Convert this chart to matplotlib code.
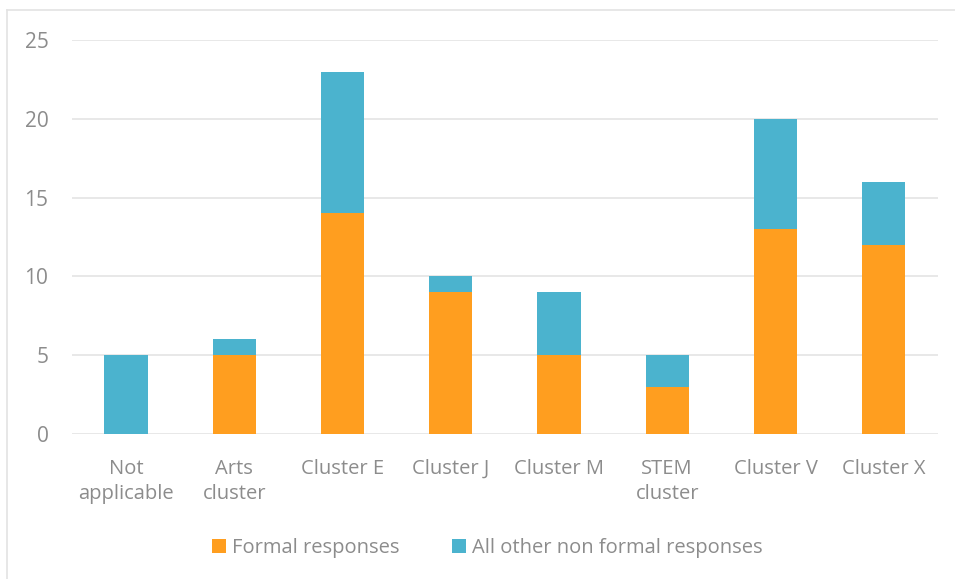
import matplotlib.pyplot as plt
import numpy as np
from matplotlib.lines import Line2D

plt.rcParams['font.family'] = ['Open Sans', 'DejaVu Sans']

categories = ['Not\napplicable', 'Arts\ncluster', 'Cluster E', 'Cluster J',
              'Cluster M', 'STEM\ncluster', 'Cluster V', 'Cluster X']
formal = [0, 5, 14, 9, 5, 3, 13, 12]
non_formal = [5, 1, 9, 1, 4, 2, 7, 4]

orange = '#FF9E1F'
blue = '#4BB3CE'
grey = '#8C8C8C'

fig = plt.figure(figsize=(9.55, 5.79), dpi=100)
ax = fig.add_axes([0.0754, 0.2504, 0.9066, 0.6805])

x = np.arange(len(categories))
ax.bar(x, formal, width=0.4, color=orange, label='Formal responses', zorder=3)
ax.bar(x, non_formal, width=0.4, bottom=formal, color=blue,
       label='All other non formal responses', zorder=3)

ax.set_xlim(-0.5, len(categories) - 0.5)
ax.set_ylim(0, 25)
ax.set_yticks([0, 5, 10, 15, 20, 25])
ax.set_xticks(x)
ax.set_xticklabels(categories, fontsize=14.5, color=grey, linespacing=1.35)
ax.tick_params(axis='y', labelsize=15, labelcolor=grey, length=0, pad=17)
ax.tick_params(axis='x', length=0, pad=18)
ax.grid(axis='y', color='#E6E6E6', linewidth=1.3, zorder=0)
for s in ax.spines.values():
    s.set_visible(False)

# outer chart frame (top and left)
fig.add_artist(Line2D([7 / 955, 7 / 955], [0, 1 - 10 / 579], color='#E3E3E3', lw=1.2))
fig.add_artist(Line2D([7 / 955, 1], [1 - 10 / 579, 1 - 10 / 579], color='#E3E3E3', lw=1.2))

fig.legend(loc='center', bbox_to_anchor=(0.51, 1 - 548 / 579), ncol=2, frameon=False,
           fontsize=14.5, labelcolor=grey, handlelength=0.7, handleheight=0.7,
           handletextpad=0.3, columnspacing=2.6)

fig.savefig('out.png', dpi=100)
